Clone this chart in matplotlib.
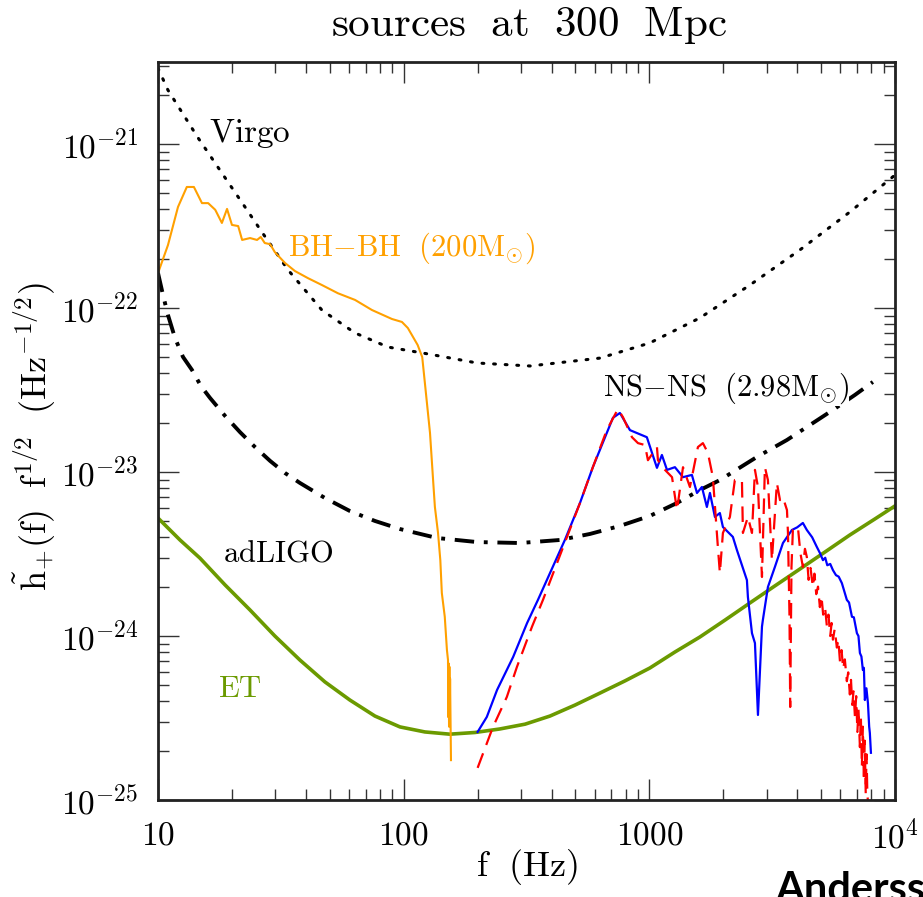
import numpy as np
import matplotlib
matplotlib.use("Agg")
import matplotlib.pyplot as plt

plt.rcParams['mathtext.fontset'] = 'cm'
plt.rcParams['font.family'] = ['DejaVu Serif']

# ---------------- data ----------------
virgo_f = [10, 10.98, 14.5, 18.2, 22.6, 26.5, 33.8, 46.5, 63.3, 86.3, 130, 199, 327, 630, 1004, 1606, 2566, 4100, 6550, 10000]
virgo_h = [2.9e-21, 2.13e-21, 1.10e-21, 6.65e-22, 4.13e-22, 2.9e-22, 1.71e-22, 9.7e-23, 7.05e-23, 5.78e-23,
           5.2e-23, 4.62e-23, 4.43e-23, 4.95e-23, 6.12e-23, 8.7e-23, 1.38e-22, 2.26e-22, 3.85e-22, 6.47e-22]

adligo_f = [10, 10.48, 10.98, 11.73, 12.64, 13.75, 14.96, 16.28, 18.74, 21.57, 24.82, 28.57, 32.88, 37.84,
            47.83, 60.43, 76.38, 96.6, 136.6, 198.8, 297.4, 432.5, 573, 759, 1006, 1295, 1607, 1938, 2741,
            3631, 4504, 5588, 6868, 8128]
adligo_h = [1.635e-22, 1.2e-22, 9.06e-23, 6.56e-23, 5.03e-23, 4.19e-23, 3.34e-23, 2.83e-23, 2.2e-23, 1.75e-23,
            1.42e-23, 1.17e-23, 9.86e-24, 8.57e-24, 6.94e-24, 5.78e-24, 5.03e-24, 4.49e-24, 3.96e-24, 3.74e-24,
            3.69e-24, 3.85e-24, 4.19e-24, 4.69e-24, 5.4e-24, 6.47e-24, 7.76e-24, 8.93e-24, 1.235e-23,
            1.567e-23, 1.934e-23, 2.39e-23, 2.95e-23, 3.54e-23]

et_f = [10, 12.29, 14.8, 18.74, 23.7, 29.9, 37.8, 47.8, 60.4, 76.4, 96.6, 122, 154, 195, 246, 312, 394, 498,
        630, 795, 1005, 1270, 1606, 2032, 2566, 3243, 4100, 5185, 6550, 8280, 10000]
et_h = [5.24e-24, 3.85e-24, 2.99e-24, 2.05e-24, 1.44e-24, 1.0e-24, 7.14e-25, 5.25e-25, 4.07e-25, 3.25e-25,
        2.79e-25, 2.6e-25, 2.52e-25, 2.58e-25, 2.71e-25, 2.9e-25, 3.25e-25, 3.79e-25, 4.49e-25, 5.32e-25,
        6.38e-25, 7.98e-25, 9.86e-25, 1.25e-24, 1.59e-24, 2.02e-24, 2.56e-24, 3.25e-24, 4.13e-24, 5.17e-24,
        6.21e-24]

bhbh_f = [10, 10.98, 12.06, 13.1, 14.0, 15.1, 16.0, 17.1, 18.2, 19.1, 20.0, 21.2, 22.0, 23.7, 25.3, 26.2, 27.2,
          28.6, 29.9, 32.9, 36.1, 40.8, 46.5, 54.0, 63.4, 74.3, 89.6, 98.4, 104, 114, 119, 122, 128, 132, 134,
          138, 141, 143, 147, 150, 151.5, 152, 152.5, 153, 153.5, 154, 154.5, 155.8]
bhbh_h = [1.63e-22, 2.42e-22, 4.13e-22, 5.47e-22, 5.47e-22, 4.36e-22, 4.36e-22, 3.97e-22, 3.3e-22, 4.02e-22,
          3.21e-22, 3.16e-22, 2.6e-22, 2.67e-22, 2.6e-22, 2.71e-22, 2.49e-22, 2.45e-22, 2.19e-22, 1.88e-22,
          1.68e-22, 1.52e-22, 1.38e-22, 1.23e-22, 1.12e-22, 9.72e-23, 8.57e-23, 8.22e-23, 7.55e-23, 5.95e-23,
          5.02e-23, 3.49e-23, 1.73e-23, 8.57e-24, 6.12e-24, 4.25e-24, 2.9e-24, 1.83e-24, 1.31e-24, 8.22e-25,
          7.15e-25, 3.2e-25, 6.8e-25, 2.8e-25, 6.5e-25, 3.0e-25, 5.5e-25, 1.75e-25]

nsb_f = [200, 218, 240, 279, 318, 352, 453, 522, 589, 711, 759, 834, 977, 1074, 1125, 1180, 1271, 1371, 1490,
         1563, 1637, 1715, 1765, 1849, 1937, 1993, 2188, 2273, 2496, 2519, 2617, 2691, 2768, 2874, 2898, 3039,
         3245, 3499, 3805, 4000, 4217, 4377, 4600, 4807, 4950, 5090, 5200, 5300, 5450, 5590, 5750, 5900, 6078,
         6200, 6368, 6500, 6680, 6800, 6998, 7100, 7197, 7300, 7400, 7470, 7540, 7650, 7760, 7850, 7900, 7980]
nsb_h = [2.6e-25, 3.21e-25, 4.69e-25, 7.45e-25, 1.2e-24, 1.66e-24, 3.85e-24, 6.47e-24, 1.07e-23, 2.14e-23,
         2.29e-23, 1.8e-23, 1.63e-23, 1.06e-23, 1.27e-23, 1.03e-23, 1.07e-23, 9.3e-24, 9.6e-24, 7.45e-24,
         8.1e-24, 6.12e-24, 7.45e-24, 5.32e-24, 5.62e-24, 4.62e-24, 4.02e-24, 3.34e-24, 2.19e-24, 1.73e-24,
         1.04e-24, 9.05e-25, 3.3e-25, 1.14e-24, 1.25e-24, 1.99e-24, 2.64e-24, 3.69e-24, 4.43e-24, 4.6e-24,
         4.89e-24, 4.43e-24, 4.0e-24, 3.49e-24, 3.2e-24, 2.9e-24, 3.0e-24, 2.7e-24, 2.75e-24, 2.52e-24,
         2.35e-24, 2.3e-24, 2.1e-24, 1.9e-24, 1.66e-24, 1.6e-24, 1.31e-24, 1.3e-24, 1.04e-24, 1.0e-24,
         7.87e-25, 7.5e-25, 6.2e-25, 6.4e-25, 4.07e-25, 4.8e-25, 3.9e-25, 2.8e-25, 2.56e-25, 1.94e-25]

nsr_f = [200, 231, 263, 289, 333, 369, 522, 589, 671, 745, 781, 850, 899, 960, 987, 1035, 1074, 1084, 1158,
         1237, 1296, 1371, 1463, 1577, 1652, 1731, 1814, 1901, 1937, 1993, 2128, 2229, 2382, 2404, 2519, 2617,
         2691, 2768, 2874, 2954, 3039, 3155, 3305, 3403, 3499, 3633, 3667, 3720, 3745, 3790, 3840, 4025, 4120,
         4217, 4300, 4377, 4450, 4530, 4630, 4700, 4780, 4860, 4945, 5020, 5100, 5190, 5280, 5360, 5450, 5520,
         5590, 5680, 5800, 5880, 5970, 6060, 6150, 6250, 6368, 6450, 6550, 6620, 6700, 6780, 6870, 6950, 7030,
         7100, 7197, 7260, 7330, 7400, 7470, 7530, 7600, 7660, 7720, 7760]
nsr_h = [1.57e-25, 2.79e-25, 4.25e-25, 6.47e-25, 1.14e-24, 1.66e-24, 6.47e-24, 1.07e-23, 1.8e-23, 2.42e-23,
         2.16e-23, 1.63e-23, 1.5e-23, 1.46e-23, 1.18e-23, 1.31e-23, 1.42e-23, 1.18e-23, 1.03e-23, 9.3e-24,
         5.86e-24, 1.07e-23, 8.1e-24, 1.42e-23, 1.5e-23, 1.31e-23, 9.3e-24, 3.49e-24, 2.42e-24, 4.25e-24,
         5.32e-24, 8.93e-24, 8.93e-24, 4.25e-24, 5.32e-24, 4.25e-24, 1.03e-23, 8.1e-24, 2.29e-24, 1.07e-23,
         8.93e-24, 2.9e-24, 8.57e-24, 6.74e-24, 7.0e-24, 5.86e-24, 4.25e-24, 1.31e-24, 3.69e-25, 2.64e-24,
         4.43e-24, 4.62e-24, 3.2e-24, 2.64e-24, 3.4e-24, 3.03e-24, 2.2e-24, 2.6e-24, 1.99e-24, 2.4e-24,
         1.8e-24, 2.0e-24, 1.5e-24, 1.75e-24, 1.35e-24, 1.5e-24, 1.15e-24, 1.35e-24, 1.0e-24, 1.2e-24,
         9.5e-25, 1.1e-24, 8.5e-25, 9.5e-25, 7.0e-25, 8.2e-25, 6.3e-25, 7.2e-25, 5.3e-25, 6.0e-25,
         4.4e-25, 5.4e-25, 3.8e-25, 4.6e-25, 3.2e-25, 4.3e-25, 2.6e-25, 3.6e-25, 2.1e-25, 3.3e-25,
         1.6e-25, 2.8e-25, 1.3e-25, 2.3e-25, 1.1e-25, 1.9e-25, 1.05e-25, 1.0e-25]

xticks = [10, 100, 1000, 10000]
xticklabels = [r'$\mathrm{10}$', r'$\mathrm{100}$', r'$\mathrm{1000}$', r'$\mathrm{10^4}$']
yticks = [1e-25, 1e-24, 1e-23, 1e-22, 1e-21]
yticklabels = [r'$\mathrm{10^{-25}}$', r'$\mathrm{10^{-24}}$', r'$\mathrm{10^{-23}}$',
               r'$\mathrm{10^{-22}}$', r'$\mathrm{10^{-21}}$']

# ---------------- figure ----------------
W, H = 923, 897
fig = plt.figure(figsize=(W / 100, H / 100), dpi=100)
ax = fig.add_axes([158 / W, (H - 800) / H, (895 - 158) / W, (800 - 62) / H])
ax.set_xscale('log')
ax.set_yscale('log')
ax.set_xlim(10, 1e4)
ax.set_ylim(1e-25, 10 ** -20.5)

ax.plot(virgo_f, virgo_h, color='black', lw=2.2, linestyle=(0, (0.6, 3.2)), dash_capstyle='round')
ax.plot(adligo_f, adligo_h, color='black', lw=2.8, linestyle=(0, (5, 2.5, 1, 2.5)))
ax.plot(et_f, et_h, color='#6b9a00', lw=2.6)
ax.plot(bhbh_f, bhbh_h, color='#ffa000', lw=1.5)
ax.plot(nsb_f, nsb_h, color='#0000ff', lw=1.6)
ax.plot(nsr_f, nsr_h, color='#ff0000', lw=1.6, linestyle=(0, (7, 4)))

ax.set_xticks(xticks)
ax.set_xticklabels(xticklabels)
ax.set_yticks(yticks)
ax.set_yticklabels(yticklabels)
ax.tick_params(which='both', direction='in', top=True, right=True, width=1.0, colors='#333333',
               labelcolor='black', labelsize=24)
ax.tick_params(which='major', length=15)
ax.tick_params(which='minor', length=8)
ax.tick_params(axis='x', which='major', pad=14)
ax.tick_params(axis='y', which='major', pad=14)
ax.yaxis.set_minor_locator(matplotlib.ticker.LogLocator(base=10, subs=np.arange(2, 10), numticks=20))
ax.xaxis.set_minor_locator(matplotlib.ticker.LogLocator(base=10, subs=np.arange(2, 10), numticks=20))
ax.yaxis.set_minor_formatter(matplotlib.ticker.NullFormatter())
ax.xaxis.set_minor_formatter(matplotlib.ticker.NullFormatter())
for s in ax.spines.values():
    s.set_linewidth(2.0)
    s.set_color('#222222')

xl = ax.set_xlabel(r'$\mathrm{f\ \ (Hz)}$', fontsize=26)
ax.xaxis.set_label_coords(0.5, (800 - 867) / 738)
xl.set_va('center')
yl = ax.set_ylabel(r'$\tilde{\mathrm{h}}_{+}(\mathrm{f})\ \ \mathrm{f}^{1/2}\ \ (\mathrm{Hz}^{-1/2})$',
                   fontsize=26)
ax.yaxis.set_label_coords((35 - 158) / 737, (800 - 437) / 738)
yl.set_va('center')

fig.text(529 / W, 1 - 25 / H, r'$\mathrm{sources\ \ at\ \ 300\ \ Mpc}$', fontsize=31,
         ha='center', va='center')

tr = ax.transAxes
def axpos(px, py):
    return ((px - 158) / (895 - 158), (800 - py) / (800 - 62))

ax.text(*axpos(250, 134), r'$\mathrm{Virgo}$', fontsize=24, ha='center', va='center', transform=tr)
ax.text(*axpos(412, 248), r'$\mathrm{BH{-}BH\ \ (200M_{\odot})}$', fontsize=22, ha='center',
        va='center', color='#ffa000', transform=tr)
ax.text(*axpos(726, 388), r'$\mathrm{NS{-}NS\ \ (2.98M_{\odot})}$', fontsize=22, ha='center',
        va='center', color='black', transform=tr,
        bbox=dict(facecolor='white', edgecolor='none', pad=0))
ax.text(*axpos(278, 553), r'$\mathrm{adLIGO}$', fontsize=22, ha='center', va='center', transform=tr)
ax.text(*axpos(240, 688), r'$\mathrm{ET}$', fontsize=22, ha='center', va='center', color='#6b9a00',
        transform=tr)

fig.text(775 / W, 1 - 871 / H, 'Andersson', fontsize=30, fontweight='bold', family='Lato',
         ha='left', va='top')

fig.savefig('out.png', dpi=100)
